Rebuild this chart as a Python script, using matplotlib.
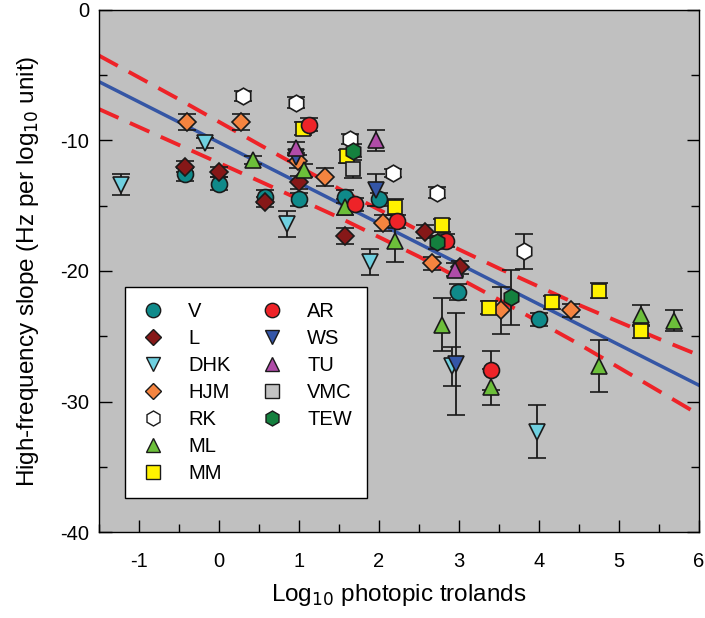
import numpy as np
import matplotlib
matplotlib.use("Agg")
import matplotlib.pyplot as plt
from matplotlib.lines import Line2D
from matplotlib.ticker import MultipleLocator

plt.rcParams['font.family'] = ['Liberation Sans', 'DejaVu Sans']
plt.rcParams['axes.unicode_minus'] = False

# data (x = log10 photopic trolands, y = slope)
v_x = [-0.43, 0.0, 0.58, 1.0, 1.58, 2.0, 2.99, 4.0]
v_y = [-12.6, -13.3, -14.3, -14.5, -14.3, -14.5, -21.6, -23.7]
v_err = [0.5, 0.5, 0.5, 0.5, 0.5, 0.5, 0.6, 0.5]

l_x = [-0.43, 0.0, 0.58, 1.0, 1.58, 2.58, 3.01]
l_y = [-12.0, -12.4, -14.7, -13.2, -17.3, -17.0, -19.7]
l_err = [0.4, 0.4, 0.4, 0.5, 0.6, 0.5, 0.5]

dhk_x = [-1.22, -0.18, 0.85, 1.89, 2.91, 3.97]
dhk_y = [-13.4, -10.2, -16.4, -19.3, -27.3, -32.3]
dhk_err = [0.8, 0.4, 1.0, 1.0, 1.5, 2.0]

hjm_x = [-0.40, 0.28, 0.99, 1.33, 2.05, 2.66, 3.53, 4.40]
hjm_y = [-8.6, -8.6, -11.6, -12.8, -16.3, -19.4, -23.0, -23.0]
hjm_err = [0.6, 0.6, 0.5, 0.7, 0.6, 0.5, 1.8, 0.5]

rk_x = [0.30, 0.96, 1.64, 2.17, 2.72, 3.81]
rk_y = [-6.6, -7.1, -9.9, -12.5, -14.0, -18.5]
rk_err = [0.4, 0.4, 0.4, 0.3, 0.4, 1.35]

ml_x = [0.42, 1.06, 1.58, 2.2, 2.79, 3.40, 4.75, 5.28, 5.69]
ml_y = [-11.5, -12.3, -15.1, -17.7, -24.1, -28.9, -27.3, -23.4, -23.8]
ml_err = [0.3, 0.5, 0.6, 1.6, 2.0, 1.4, 2.0, 0.8, 0.8]

mm_x = [1.05, 1.60, 2.2, 2.79, 3.38, 4.16, 4.75, 5.28]
mm_y = [-9.1, -11.2, -15.1, -16.5, -22.8, -22.4, -21.5, -24.6]
mm_err = [0.5, 0.5, 0.6, 0.5, 0.5, 0.5, 0.6, 0.5]

ar_x = [1.12, 1.70, 2.22, 2.84, 3.40]
ar_y = [-8.8, -14.9, -16.2, -17.7, -27.6]
ar_err = [0.5, 0.5, 0.5, 0.5, 1.5]

ws_x = [0.96, 1.96, 2.96]
ws_y = [-11.3, -13.8, -27.1]
ws_err = [0.3, 1.2, 3.9]

tu_x = [0.96, 1.96, 2.95]
tu_y = [-10.6, -10.0, -19.9]
tu_err = [0.5, 0.8, 0.5]

vmc_x = [1.67]
vmc_y = [-12.2]
vmc_err = [0.7]

tew_x = [1.67, 2.73, 3.65]
tew_y = [-10.8, -17.8, -22.0]
tew_err = [0.5, 0.5, 2.1]

# regression line and confidence band
fit_x = [-1.5, 6.0]
fit_y = [-5.5, -28.75]
band_x = [-1.5, -0.5, 0.5, 1.5, 2.5, 3.5, 4.5, 5.5, 6.0]
band_hi = [-3.5, -6.85, -10.3, -13.7, -16.9, -19.8, -22.6, -25.2, -26.45]
band_lo = [-7.6, -10.35, -13.1, -15.9, -18.9, -22.2, -25.6, -29.2, -31.0]

series = [
    ("V", v_x, v_y, v_err, "o", "#0f8a8a"),
    ("L", l_x, l_y, l_err, "D", "#861818"),
    ("DHK", dhk_x, dhk_y, dhk_err, "v", "#6fd0e0"),
    ("HJM", hjm_x, hjm_y, hjm_err, "D", "#f5843f"),
    ("RK", rk_x, rk_y, rk_err, "h", "#ffffff"),
    ("ML", ml_x, ml_y, ml_err, "^", "#6cbf3a"),
    ("MM", mm_x, mm_y, mm_err, "s", "#fff200"),
    ("AR", ar_x, ar_y, ar_err, "o", "#ee2328"),
    ("WS", ws_x, ws_y, ws_err, "v", "#3456a8"),
    ("TU", tu_x, tu_y, tu_err, "^", "#b04ca8"),
    ("VMC", vmc_x, vmc_y, vmc_err, "s", "#c2c2c2"),
    ("TEW", tew_x, tew_y, tew_err, "h", "#14803e"),
]
msize = {"o": 11.5, "D": 9.5, "v": 11.5, "^": 11.5, "s": 10.5, "h": 12}

fig = plt.figure(figsize=(7.05, 6.18), dpi=100)
ax = fig.add_axes([0.1404, 0.139, 0.851, 0.845])
ax.set_facecolor("#c0c0c0")

ax.plot(band_x, band_hi, color="#ee2328", lw=2.8, dashes=(5.5, 3.2), zorder=2)
ax.plot(band_x, band_lo, color="#ee2328", lw=2.8, dashes=(5.5, 3.2), zorder=2)
ax.plot(fit_x, fit_y, color="#3556a5", lw=2.5, zorder=2)

for name, xs, ys, es, mk, col in series:
    ax.errorbar(xs, ys, yerr=es, fmt=mk, ms=msize[mk], mfc=col, mec="#1a1a1a",
                mew=1.2, ecolor="#1a1a1a", elinewidth=1.3, capsize=6.5,
                capthick=1.3, zorder=3)

ax.set_xlim(-1.5, 6)
ax.set_ylim(-40, 0)
ax.xaxis.set_major_locator(MultipleLocator(1))
ax.xaxis.set_minor_locator(MultipleLocator(0.5))
ax.yaxis.set_major_locator(MultipleLocator(10))
ax.yaxis.set_minor_locator(MultipleLocator(5))
ax.tick_params(which="both", direction="in", right=True, labelsize=14.5, width=1)
ax.tick_params(which="major", length=9)
ax.tick_params(which="minor", length=6)
ax.tick_params(axis="x", pad=14)
ax.tick_params(axis="y", pad=7)
for s in ax.spines.values():
    s.set_linewidth(1.0)

ax.set_xlabel("Log$_{10}$ photopic trolands", fontsize=17.5, labelpad=8)
ax.set_ylabel("High-frequency slope (Hz per log$_{10}$ unit)", fontsize=17.5, labelpad=14)

handles = []
labels = []
for name, xs, ys, es, mk, col in series:
    handles.append(Line2D([], [], ls="none", marker=mk, ms=msize[mk] * 0.9,
                          mfc=col, mec="#1a1a1a", mew=1.0))
    labels.append(name)
for i in range(2):
    handles.append(Line2D([], [], ls="none"))
    labels.append("")

leg = ax.legend(handles, labels, ncol=2, loc="lower left",
                bbox_to_anchor=(0.043, 0.065), borderaxespad=0,
                fontsize=14.5, frameon=True,
                fancybox=False, edgecolor="black", facecolor="white",
                framealpha=1, labelspacing=0.4, handletextpad=1.1,
                columnspacing=1.4, borderpad=0.75, handlelength=1.3)
leg.get_frame().set_linewidth(1.0)

fig.savefig("out.png", dpi=100)
